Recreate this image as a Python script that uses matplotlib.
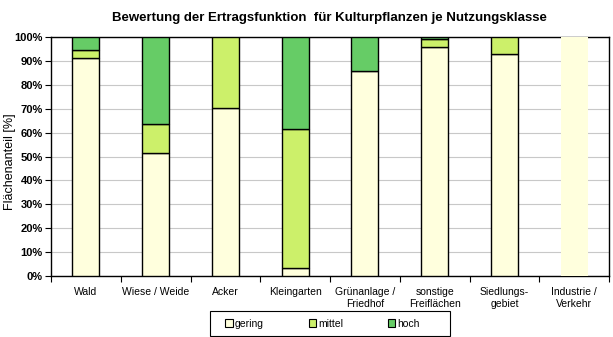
import numpy as np
import matplotlib
matplotlib.use('Agg')
import matplotlib.pyplot as plt
from matplotlib.patches import Patch, Rectangle

plt.rcParams['font.family'] = ['Liberation Sans', 'DejaVu Sans']

# data (percent of area)
categories = ['Wald', 'Wiese / Weide', 'Acker', 'Kleingarten', 'Grünanlage /\nFriedhof',
              'sonstige\nFreiflächen', 'Siedlungs-\ngebiet', 'Industrie /\nVerkehr']
gering = [91.2, 51.3, 70.2, 3.2, 85.6, 95.7, 92.9, 100.0]
mittel = [3.2, 12.2, 29.8, 58.2, 0.0, 3.5, 7.1, 0.0]
hoch = [5.6, 36.5, 0.0, 38.6, 14.4, 0.8, 0.0, 0.0]
series_names = ['gering', 'mittel', 'hoch']
colors = ['#FFFFDD', '#CCF06A', '#66CC66']

fig = plt.figure(figsize=(6.13, 3.37), dpi=100)
ax = fig.add_axes([0.0832, 0.181, 0.9103, 0.709])

x = np.arange(len(categories))
bottom = np.zeros(len(categories))
for vals, name, c in zip([gering, mittel, hoch], series_names, colors):
    vals = np.array(vals)
    for i in range(len(categories)):
        if vals[i] <= 0:
            continue
        # last bar (100% gering) has no outline in the original
        ec = 'none' if (i == len(categories) - 1) else 'black'
        ax.bar(x[i], vals[i], bottom=bottom[i], width=0.39, color=c,
               edgecolor=ec, linewidth=1.0, zorder=3)
    bottom += vals

ax.set_xlim(-0.5, len(categories) - 0.5)
ax.set_ylim(0, 100)
ax.set_yticks(range(0, 101, 10))
ax.set_yticklabels(['%d%%' % v for v in range(0, 101, 10)], fontsize=8, fontweight='bold')
ax.yaxis.grid(True, color='#C8C8C8', linewidth=0.8, zorder=0)
ax.set_axisbelow(True)

ax.set_xticks(x)
ax.set_xticklabels(categories, fontsize=7.5)
ax.tick_params(axis='x', which='major', length=0, pad=8)
ax.set_xticks(np.arange(-0.5, len(categories) - 0.4, 1), minor=True)
ax.tick_params(axis='x', which='minor', length=4, direction='out', width=0.8)
ax.tick_params(axis='y', length=4, direction='out', width=0.8, pad=2)
for s in ax.spines.values():
    s.set_linewidth(1.0)
    s.set_color('black')

ax.set_ylabel('Flächenanteil [%]', fontsize=9, va='center')
ax.yaxis.set_label_coords(-0.074, 0.48)
fig.text(0.5375, 0.947, 'Bewertung der Ertragsfunktion  für Kulturpflanzen je Nutzungsklasse',
         fontsize=9.5, fontweight='bold', ha='center', va='center')

# legend box drawn by hand, legend inside without frame
fig.patches.append(Rectangle((210 / 613, 1 / 337), 240 / 613, 25 / 337,
                             transform=fig.transFigure, facecolor='white',
                             edgecolor='black', linewidth=0.8))
handles = [Patch(facecolor=c, edgecolor='black', linewidth=0.8) for c in colors]
leg = fig.legend(handles, series_names, loc='center', bbox_to_anchor=(0.526, 0.04),
                 ncol=3, fontsize=7.5, frameon=False,
                 handlelength=0.7, handleheight=0.7, handletextpad=0.2,
                 columnspacing=4.3, borderpad=0, borderaxespad=0)

fig.savefig('out.png', dpi=100)
